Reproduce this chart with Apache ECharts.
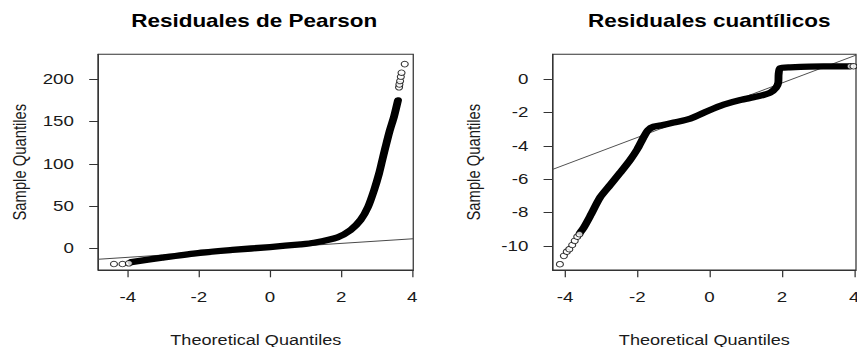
<!DOCTYPE html>
<html>
<head>
<meta charset="utf-8">
<title>Residuales</title>
<script src="https://cdn.jsdelivr.net/npm/echarts@6/dist/echarts.min.js"></script>
<style>
  html, body { margin: 0; padding: 0; background: #fff; overflow: hidden; }
  /* the figure is laid out 686px wide and shown stretched to 857px */
  #chart { width: 686px; height: 347px; transform: scaleX(1.24927); transform-origin: 0 0; }
</style>
</head>
<body>
<div id="chart"></div>
<script>
// ---- Residuales de Pearson: normal Q-Q plot ----
const pearsonTitle = 'Residuales de Pearson';
const pearsonXTicks = [-4, -2, 0, 2, 4];
const pearsonYTicks = [0, 50, 100, 150, 200];
// dense body of the sample quantiles (theoretical, sample)
const pearsonBand = [
  [-3.90, -16.4], [-3.03, -11.1], [-2.09, -5.9], [-1.06, -2.0], [0.00, 1.5],
  [0.86, 4.7], [1.24, 6.6], [1.90, 13.0], [2.27, 21.7], [2.55, 33.5],
  [2.76, 49.2], [2.93, 69.0], [3.07, 88.8], [3.16, 104.5], [3.25, 120.0],
  [3.36, 138.0], [3.49, 156.0], [3.60, 175.0]
];
// isolated points in both tails
const pearsonTails = [
  [-4.39, -18.6], [-4.15, -18.6], [-3.97, -17.8],
  [3.63, 190.5], [3.64, 194.0], [3.66, 198.0], [3.68, 203.0], [3.70, 207.8], [3.79, 218.0]
];
// reference line through the quartiles
const pearsonRefLine = [[-4.83, -13.0], [4.03, 11.4]];

// ---- Residuales cuantílicos: normal Q-Q plot ----
const quantTitle = 'Residuales cuantílicos';
const quantXTicks = [-4, -2, 0, 2, 4];
const quantYTicks = [-10, -8, -6, -4, -2, 0];
const quantBand = [
  [-3.58, -9.2], [-3.48, -8.9], [-3.30, -8.2], [-3.03, -7.1], [-2.75, -6.35],
  [-2.47, -5.6], [-2.20, -4.85], [-2.00, -4.2], [-1.83, -3.5], [-1.70, -3.05],
  [-1.55, -2.85], [-1.30, -2.75], [-0.99, -2.6], [-0.53, -2.36], [-0.05, -1.9],
  [0.39, -1.52], [0.85, -1.24], [1.31, -1.04], [1.68, -0.8], [1.84, -0.5],
  [1.90, -0.2], [1.91, 0.3], [1.95, 0.66], [2.23, 0.72], [3.15, 0.78], [3.85, 0.78]
];
const quantTails = [
  [-4.14, -11.1], [-4.03, -10.6], [-3.95, -10.35], [-3.88, -10.2], [-3.80, -9.95],
  [-3.73, -9.7], [-3.66, -9.45], [-3.60, -9.3],
  [3.90, 0.78], [3.98, 0.78]
];
const quantRefLine = [[-4.34, -5.41], [4.05, 1.45]];

const FONT = '"Liberation Sans", Arial, sans-serif';
const INK = '#1a1a1a';

function xAxisFor(gridIndex, min, max, ticks) {
  return {
    type: 'value', gridIndex, min, max, position: 'bottom',
    axisLine: { show: true, onZero: false, lineStyle: { color: '#333', width: 1 } },
    axisTick: { show: true, length: 7.3, customValues: ticks, lineStyle: { color: '#333', width: 1 } },
    axisLabel: { customValues: ticks, margin: 19.5, fontSize: 15, fontFamily: FONT, color: INK },
    splitLine: { show: false },
    name: 'Theoretical Quantiles', nameLocation: 'middle', nameGap: 69.5,
    nameTextStyle: { fontSize: 14.5, fontFamily: FONT, color: INK, verticalAlign: 'middle' }
  };
}
function yAxisFor(gridIndex, min, max, ticks) {
  return {
    type: 'value', gridIndex, min, max, position: 'left',
    axisLine: { show: true, onZero: false, lineStyle: { color: '#333', width: 1 } },
    axisTick: { show: true, length: 7.3, customValues: ticks, lineStyle: { color: '#333', width: 1 } },
    axisLabel: { customValues: ticks, margin: 19.5, fontSize: 15, fontFamily: FONT, color: INK },
    splitLine: { show: false },
    name: 'Sample Quantiles', nameLocation: 'middle', nameGap: 62.7,
    nameTextStyle: { fontSize: 14.8, fontFamily: FONT, color: INK, verticalAlign: 'middle' }
  };
}
function refLine(idx, data) {
  return {
    type: 'line', xAxisIndex: idx, yAxisIndex: idx, data, showSymbol: false, silent: true,
    z: 1, lineStyle: { color: '#4a4a4a', width: 1 }, animation: false
  };
}
function band(idx, data) {
  return {
    type: 'line', xAxisIndex: idx, yAxisIndex: idx, data, showSymbol: false, smooth: 0.25,
    z: 2, lineStyle: { color: '#000', width: 6.3, cap: 'round', join: 'round' }, animation: false
  };
}
function tails(idx, data) {
  return {
    type: 'scatter', xAxisIndex: idx, yAxisIndex: idx, data, symbol: 'circle', symbolSize: 5.6,
    z: 3, itemStyle: { color: '#fff', borderColor: '#000', borderWidth: 0.9 }, animation: false
  };
}

const chart = echarts.init(document.getElementById('chart'), null, { renderer: 'svg' });
chart.setOption({
  backgroundColor: '#fff',
  animation: false,
  title: [
    { text: pearsonTitle, left: 203.5, top: 11.5, padding: 0, textAlign: 'center',
      textStyle: { fontFamily: FONT, fontWeight: 'bold', fontSize: 18, color: '#000' } },
    { text: quantTitle, left: 567.7, top: 11.5, padding: 0, textAlign: 'center',
      textStyle: { fontFamily: FONT, fontWeight: 'bold', fontSize: 18, color: '#000' } }
  ],
  grid: [
    { left: 78.7, top: 54.3, width: 252.1, height: 215.7, outerBoundsMode: 'none', containLabel: false,
      show: true, borderColor: '#333', borderWidth: 1 },
    { left: 442.4, top: 54.3, width: 242.8, height: 215.7, outerBoundsMode: 'none', containLabel: false,
      show: true, borderColor: '#333', borderWidth: 1 }
  ],
  xAxis: [
    xAxisFor(0, -4.83, 4.03, pearsonXTicks),
    xAxisFor(1, -4.34, 4.05, quantXTicks)
  ],
  yAxis: [
    yAxisFor(0, -25.7, 229.6, pearsonYTicks),
    yAxisFor(1, -11.45, 1.5, quantYTicks)
  ],
  series: [
    refLine(0, pearsonRefLine), band(0, pearsonBand), tails(0, pearsonTails),
    refLine(1, quantRefLine), band(1, quantBand), tails(1, quantTails)
  ]
});
</script>
</body>
</html>
